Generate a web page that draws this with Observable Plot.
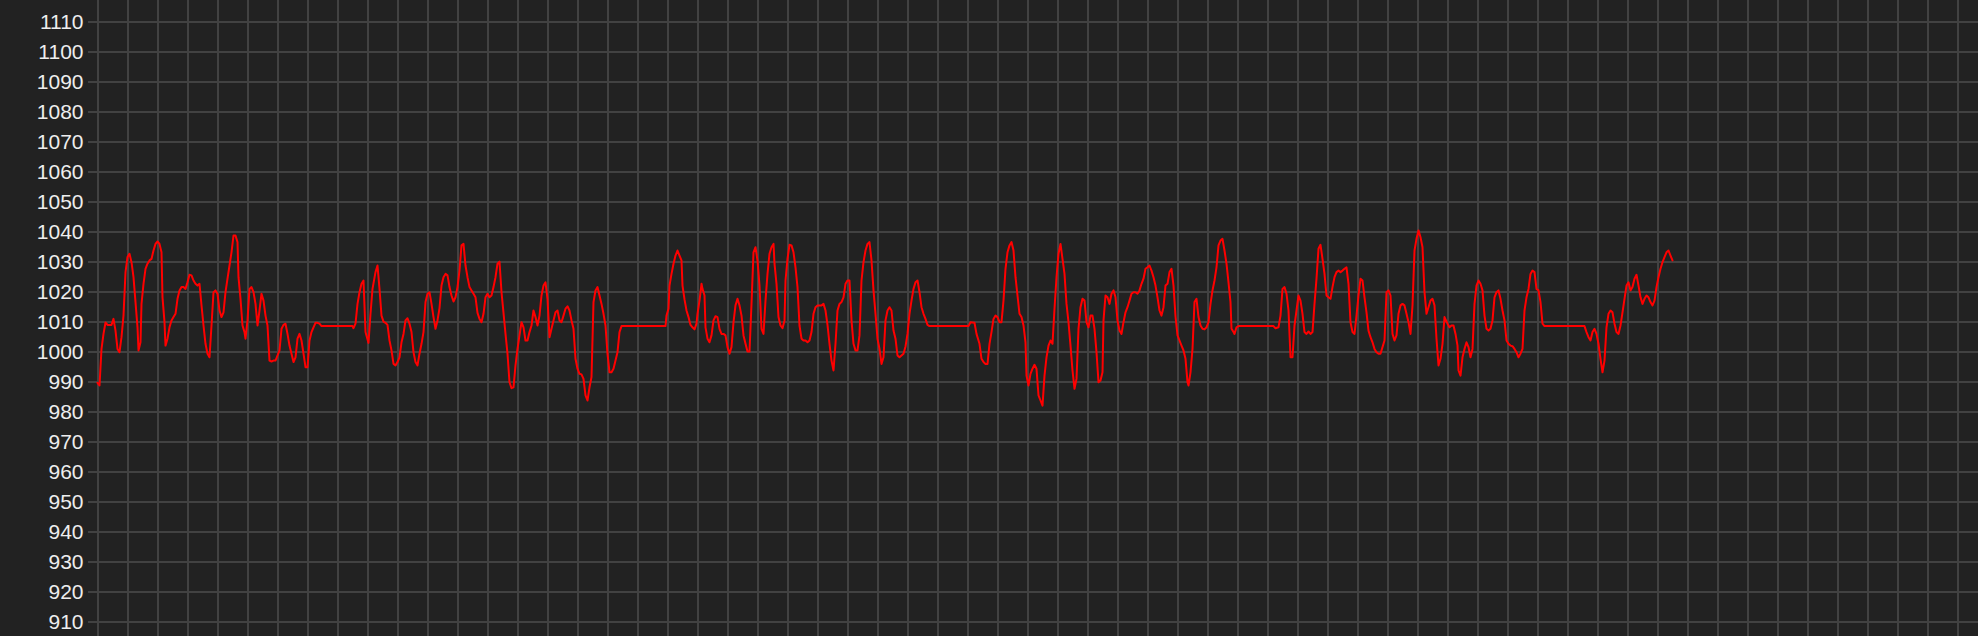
<!DOCTYPE html>
<html>
<head>
<meta charset="utf-8">
<script src="https://cdn.jsdelivr.net/npm/d3@7"></script>
<script src="https://cdn.jsdelivr.net/npm/@observablehq/plot@0.6"></script>
<style>
  html, body { margin: 0; padding: 0; background: #222222; overflow: hidden; }
  #chart svg { display: block; }
</style>
</head>
<body>
<div id="chart"></div>
<script>
// y-axis tick labels
const yTicks = [910, 920, 930, 940, 950, 960, 970, 980, 990, 1000, 1010, 1020, 1030, 1040, 1050, 1060, 1070, 1080, 1090, 1100, 1110];
// x grid positions (sample time, 30 per grid cell)
const xGrid = d3.range(0, 1861, 30);

// sample times
const t = [
  0,2,4,6,8,10,14,16,18,20,22,24,26,28,30,32,34,36,38,40,41,43,44,46,48,50,52,54,56,58,60,62,64,65,67,68,70,72,74,76,78,80,82,84,86,88,90,92,94,96,98,100,102,104,106,108,110,112,114,116,118,120,122,124,126,128,130,132,134,136,138,140,141,143,145,147,148,150,152,154,156,158,160,162,164,166,168,170,172,174,176,178,180,182,184,186,188,190,192,194,196,198,200,202,204,206,208,210,212,214,216,218,220,222,224,255,256,258,260,262,264,266,
  268,271,273,275,278,280,282,284,286,288,290,292,294,296,298,300,302,304,306,308,310,312,314,316,318,320,322,324,326,328,330,332,334,336,338,340,342,344,346,348,350,352,354,356,358,360,362,364,366,368,370,372,374,376,378,380,382,384,386,388,390,392,394,396,398,400,402,404,406,408,410,412,414,416,418,420,422,424,426,428,430,432,434,436,438,440,442,444,446,448,450,452,454,456,458,460,462,464,466,468,470,472,474,476,478,480,482,484,486,488,490,492,494,496,498,500,502,504,506,508,510,512,514,516,518,520,522,524,568,
  569,571,572,574,576,578,580,582,584,585,587,589,591,593,595,597,599,600,602,604,605,607,608,610,612,614,616,618,620,622,624,626,628,630,632,634,636,638,640,642,644,646,648,650,652,654,656,658,660,662,664,666,668,670,672,674,676,677,679,681,683,685,687,688,690,692,694,696,698,700,702,704,706,708,710,712,714,716,718,720,722,724,726,728,730,732,734,736,738,740,742,744,746,748,750,752,754,756,758,760,762,764,766,768,770,772,774,776,778,780,782,784,786,788,790,792,794,796,798,800,802,804,806,808,
  810,812,814,816,818,820,822,824,826,828,830,832,871,873,877,879,882,884,886,888,890,892,894,896,898,900,902,904,906,908,910,912,914,916,918,920,922,924,926,928,929,931,933,935,937,939,941,943,945,947,949,951,953,955,957,959,961,963,965,967,969,971,973,975,977,979,981,983,985,987,989,991,993,995,997,999,1001,1003,1005,1006,1008,1010,1012,1014,1016,1018,1020,1022,1024,1026,1028,1030,1032,1034,1036,1038,1040,1042,1044,1046,1048,1050,1052,1054,1056,1058,1060,1062,1064,1066,1068,1070,1072,1074,1076,1078,
  1080,1082,1084,1086,1088,1090,1091,1093,1095,1097,1099,1101,1103,1105,1107,1109,1111,1113,1115,1117,1119,1121,1123,1125,1127,1129,1131,1133,1134,1136,1137,1139,1141,1176,1178,1181,1183,1185,1187,1189,1191,1193,1195,1197,1199,1201,1203,1205,1207,1209,1211,1213,1215,1217,1219,1221,1223,1225,1227,1229,1231,1233,1235,1237,1239,1241,1243,1245,1247,1249,1251,1253,1255,1257,1259,1261,1263,1265,1267,1269,1271,1273,1275,1277,1279,1281,1283,1285,1287,1289,1291,1293,1295,1297,1299,1301,1303,1305,1307,1309,1311,1313,1315,1317,1319,1321,1323,1325,1327,1329,1331,1333,1335,1337,1339,1341,1343,1345,1347,
  1350,1352,1354,1356,1358,1360,1361,1363,1365,1367,1369,1371,1373,1375,1377,1379,1381,1383,1385,1387,1389,1391,1393,1395,1397,1399,1401,1403,1405,1407,1409,1411,1413,1415,1417,1419,1421,1423,1425,1427,1429,1431,1433,1435,1437,1439,1441,1443,1445,1447,1487,1489,1491,1493,1495,1497,1499,1501,1503,1505,1507,1509,1511,1513,1515,1517,1519,1521,1523,1525,1527,1529,1531,1533,1535,1537,1539,1541,1543,1545,1547,1549,1551,1553,1555,1557,1559,1561,1563,1565,1567,1569,1571,1573,1575
];

// readings
const value = [
  989.9,989,1001.2,1006.2,1010,1009.2,1009.2,1011.2,1007.3,1001.2,1000.1,1005.1,1012.3,1026.8,1031.8,1032.9,1030.1,1025.1,1016.8,1008.4,1000.7,1003.4,1016.2,1022.9,1027.9,1029.6,1030.7,1031.2,1034,1036.2,1037,1036.2,1033.4,1018.4,1010.1,1002.3,1004.6,1008.4,1010.7,1011.8,1012.9,1017.9,1020.7,1021.8,1021.8,1021.2,1023.4,1025.9,1025.7,1024,1022.9,1022.3,1022.9,1015.7,1009,1002.9,999.6,998.4,1009,1020.1,1020.7,1019.6,1014,1011.8,1013.4,1020.1,1024.6,1029,1033.4,1039,1039,1036.8,1025.1,1017.9,1009,1006.8,1004.6,1010.7,1021.2,1021.8,1020.1,1016.2,1009,1014,1019.6,1017.3,1012.3,1009,997.3,997,997.3,997.3,999,1000.7,1007.9,1009.2,1009.6,1006.2,1002.3,999.6,996.8,998.4,1004.6,1006.2,1004,999.6,995.1,995.1,1004,1006.8,1008.4,1009.9,1009.9,1009.6,1008.8,1008.8,1008.1,1009.6,1016.2,1020.1,1022.9,1024,
  1006.8,1003.2,1012.9,1021.2,1026.8,1029,1021.2,1012.3,1010.3,1009.9,1009.2,1004,1000.7,996.2,995.7,996.8,998.4,1003.4,1006.2,1010.7,1011.4,1009.6,1006.8,1000.1,996.8,995.7,999.6,1002.9,1006.8,1016.8,1019.6,1020.1,1016.2,1011.8,1007.9,1010.7,1014.8,1022.3,1025.1,1026.2,1025.7,1021.8,1019,1017,1018.4,1021.8,1027.3,1035.7,1036.2,1029,1025.1,1021.8,1020.7,1019.6,1018.4,1013.2,1011.2,1010.1,1012.9,1018.4,1019.6,1018.4,1019,1021.8,1025.1,1029.6,1030.3,1020.1,1013.2,1006.2,999.6,990.1,988.1,988.4,995.7,1001.2,1005.7,1010.1,1008.4,1004,1004,1006.8,1009,1014,1011.8,1009,1012.3,1019,1022.3,1023.4,1017.9,1005.1,1007.9,1010.7,1013.4,1014,1010.7,1010.1,1012.3,1014.6,1015.4,1014,1010.7,1007.9,997.9,994.6,992.9,992.7,991.2,985.7,984,988.4,991.8,1016.8,1020.7,1021.8,1019,1016.2,1012.9,1009,999.6,993.4,993.4,994.6,997.3,1000.1,1006.8,1008.8,1008.8,
  1012.3,1014.6,1022.3,1026.2,1029.6,1032.3,1034,1032.3,1030.7,1022.3,1017.7,1014,1011.8,1009.2,1008.4,1007.7,1009.6,1012.9,1017.3,1022.9,1021.2,1019,1008.4,1004.6,1003.4,1005.7,1010.7,1012.1,1011.8,1007.9,1006.2,1006.2,1005.7,1001.8,999.6,1001.8,1010.1,1015.7,1017.9,1015.7,1012.3,1005.7,1002.9,1000.3,1000.3,1016.2,1033.4,1035.1,1030.7,1022.3,1007.9,1006.2,1017.3,1026.2,1032.9,1035.1,1036.2,1029.6,1022.9,1011.8,1009,1008.1,1010.7,1024,1031.2,1035.9,1035.7,1033.4,1028.4,1021.8,1009,1004.6,1004,1004,1003.4,1004,1006.8,1012.9,1015.1,1015.7,1015.7,1015.7,1016.2,1014,1009.2,1002.9,997.3,994,1002.9,1014,1016.2,1016.8,1018.4,1022.9,1024,1024,1010.7,1002.9,1000.7,1000.7,1005.7,1024,1030.1,1034,1036.2,1036.8,1030.7,1020.7,1012.9,1004.6,1001.2,996.2,998.4,1010.7,1014,1015.1,1014,1007.3,1004.6,999,998.4,999,999.6,1002,
  1006.2,1012.9,1017.3,1021.2,1023.4,1024,1020.1,1015.1,1012.9,1011.2,1009.2,1008.8,1008.8,1010.1,1009.9,1006.2,1002.9,997.9,996.8,996.2,996.2,1002.9,1006.8,1011.2,1012.3,1011.8,1010.1,1010.1,1017.3,1027.9,1033.4,1035.7,1036.8,1034,1025.1,1019,1012.9,1011.8,1009,1003.4,992.3,989,992.9,994.6,995.9,994.6,985.7,984,982.3,992.3,998.4,1002.3,1004,1002.9,1014.6,1025.1,1032.9,1036.2,1031.2,1026.2,1016.2,1010.1,1002.3,994,987.9,991.2,1007.9,1015.1,1017.9,1017.3,1010.1,1008.4,1012.3,1012.3,1007.9,1000.1,990.1,990.7,993.4,1010.7,1019,1018.4,1016.2,1019.6,1020.7,1018.4,1010.7,1007.3,1006.2,1010.1,1013.4,1015.1,1017.3,1019.6,1020.1,1020.1,1019.6,1020.7,1022.9,1024.6,1027.9,1028.4,1029,1027.3,1025.1,1022.3,1018.4,1014,1012.3,1015.1,1022.3,1022.9,1026.8,1027.9,1022.3,1012,
  1005.7,1004,1002.3,1000.7,997.9,990.1,989,993.4,1001.2,1016.8,1017.9,1011.8,1009,1007.9,1007.7,1008.4,1010.1,1016.2,1020.7,1024,1028.4,1035.7,1037.3,1037.9,1034,1029.6,1023.4,1016.8,1007.9,1006.8,1006.2,1008.4,1008.8,1008.8,1008.1,1008.4,1012.3,1021.2,1021.8,1019.6,1014,998.4,998.4,1009,1014,1019,1017.3,1012.9,1006.8,1006.2,1007,1006.2,1006.8,1016.2,1024.6,1034.6,1035.9,1031.2,1026.2,1019,1018.4,1017.9,1021.8,1025.1,1026.8,1027.3,1026.8,1027.3,1027.9,1028.4,1022.9,1010.1,1006.8,1006.2,1012.3,1019,1024.6,1024,1018.4,1013.4,1007.3,1005.1,1003.4,1001.2,1000.1,999.6,999.6,1001.8,1004,1020.1,1020.7,1019,1006.2,1004,1005.7,1012.9,1015.7,1016.2,1015.7,1012.9,1010.1,1006.2,1015.7,1034,1037.9,1040.7,1038.4,1035.1,1020.1,1012.9,1015.1,1017.3,1017.9,1015.7,1004.6,995.7,997.9,1002.9,1011.8,
  1009.6,1008.4,1009,1009,1006.2,1002.3,994,992.3,998.4,1001.2,1003.4,1001.8,998.4,1001.2,1016.2,1022.3,1024,1022.9,1020.7,1012.3,1007.9,1007.3,1007.9,1010.7,1018.4,1020.1,1020.7,1017.9,1014,1010.7,1004,1002.9,1002.3,1002.1,1001.2,1000.1,998.4,999.6,1001.2,1014,1018.4,1021.2,1026.2,1027.3,1026.8,1021.2,1020.7,1016.8,1009.6,1008.8,1008.8,1006.8,1005.1,1004,1006.8,1007.9,1006.2,1002.9,997.9,993.4,997.3,1008.4,1012.9,1014,1013.4,1009.6,1006.8,1006.2,1009,1013.4,1017.9,1022.3,1023.4,1020.7,1021.8,1024.6,1025.9,1022.3,1018.4,1016.2,1017.9,1019,1018.4,1016.8,1015.7,1017.3,1021.8,1025.1,1027.9,1030.1,1031.8,1033.4,1034,1032.3,1030.7
];

const data = t.map((d, i) => ({t: d, v: value[i]}));

const chart = Plot.plot({
  width: 1978,
  height: 636,
  marginLeft: 88,
  marginRight: 0,
  marginTop: 0,
  marginBottom: 0,
  style: {
    background: "#222222",
    color: "#eeeeee",
    fontFamily: "'Liberation Sans', Arial, sans-serif",
    fontSize: "22px"
  },
  x: {domain: [-9, 1881], axis: null},
  y: {domain: [905.3333, 1117.3333], axis: null},
  marks: [
    Plot.ruleY(yTicks, {stroke: "#424242", strokeWidth: 2, shapeRendering: "crispEdges"}),
    Plot.ruleX(xGrid, {stroke: "#424242", strokeWidth: 2, shapeRendering: "crispEdges"}),
    Plot.line(data, {x: "t", y: "v", stroke: "#ff0000", strokeWidth: 2}),
    Plot.axisY(yTicks, {tickSize: 0, tickPadding: 5, fill: "#eeeeee", fontSize: 21, label: null, tickFormat: d => String(d)})
  ]
});

document.getElementById("chart").appendChild(chart);
</script>
</body>
</html>
